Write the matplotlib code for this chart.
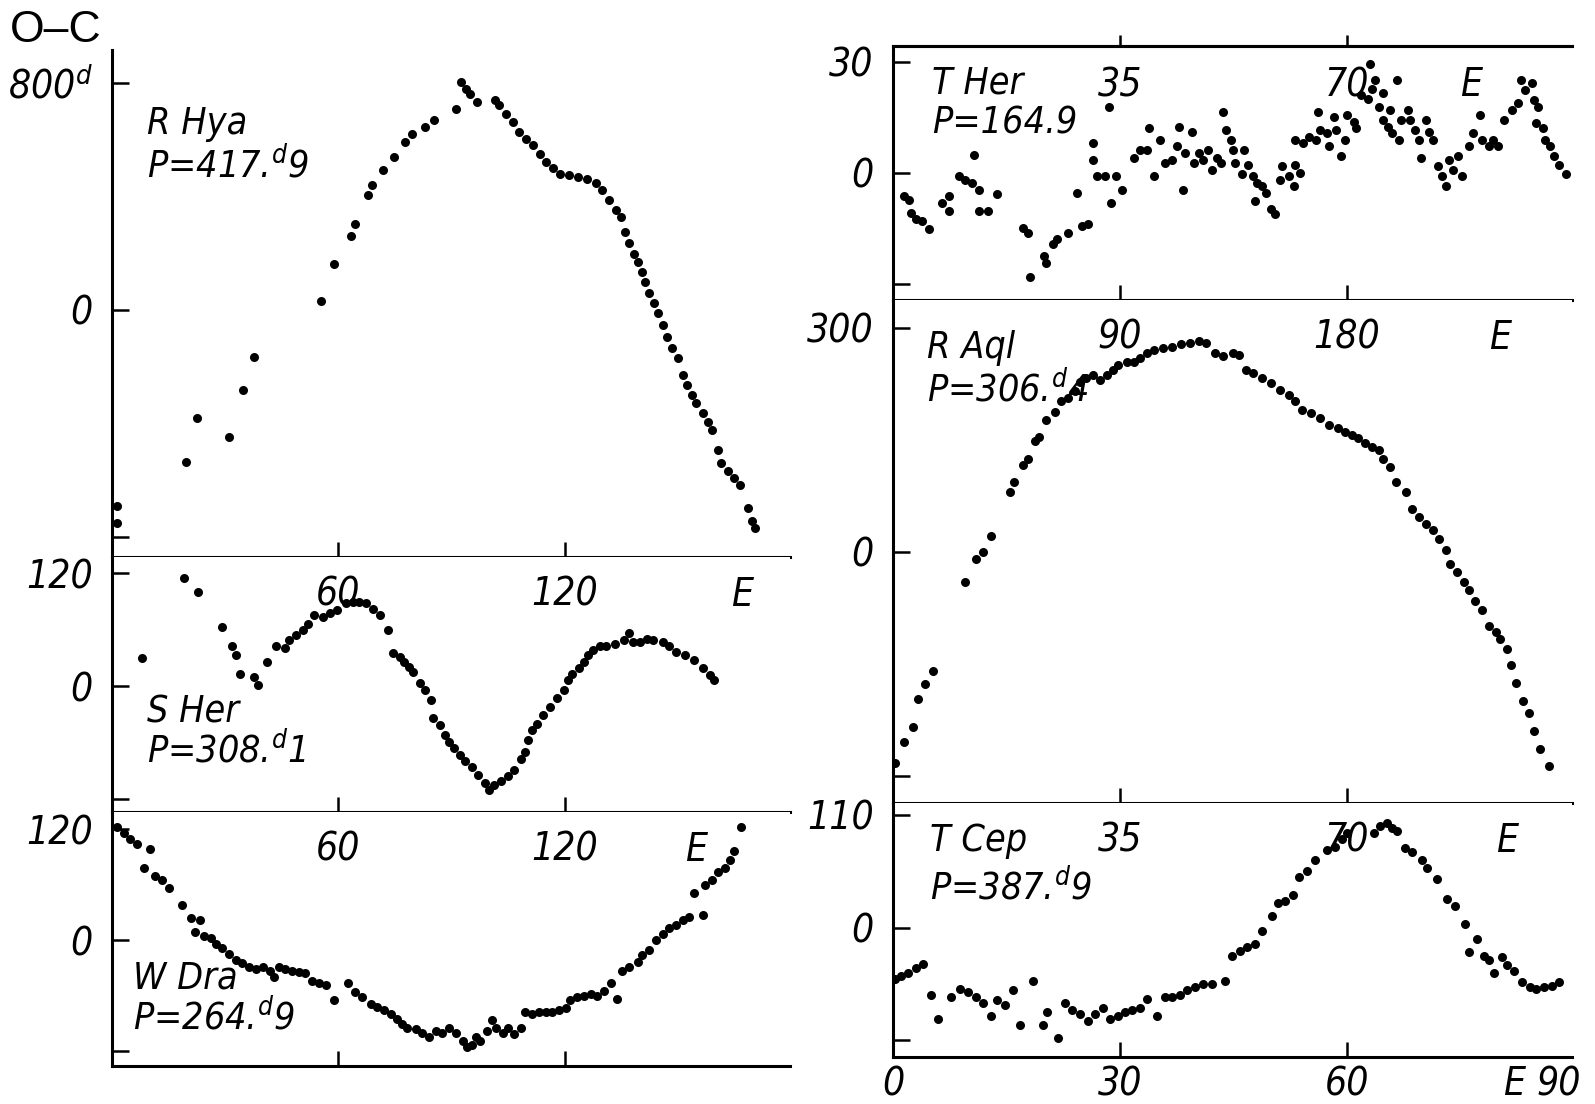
import matplotlib
matplotlib.use("Agg")
import matplotlib.pyplot as plt

# ---------------------------------------------------------------- data
# R Hya
rhya_e = [1.2, 1.2, 19.6, 22.6, 30.9, 34.8, 37.6, 55.5, 59.0, 63.5, 64.5, 68.0, 69.0, 71.9,
          74.8, 77.8, 79.6, 83.1, 85.5, 91.1, 92.6, 93.8, 95.0, 96.8, 101.5, 102.7, 104.5,
          106.3, 108.0, 109.9, 111.6, 113.4, 115.2, 117.0, 118.8, 121.1, 123.5, 125.9, 128.3,
          130.0, 131.8, 133.6, 135.1, 136.0, 137.2, 138.4, 139.5, 140.5, 141.3, 142.5, 143.7,
          144.9, 146.0, 147.3, 148.5, 150.2, 151.4, 152.6, 153.8, 155.0, 156.8, 158.0, 159.1,
          160.6, 161.5, 163.3, 165.0, 166.5, 168.6, 169.8, 170.4]
rhya_oc = [-692, -750, -534, -381, -446, -282, -164, 33, 162, 262, 303, 405, 440, 493,
           540, 592, 622, 645, 669, 710, 804, 780, 762, 733, 739, 721, 692,
           663, 628, 604, 581, 551, 522, 499, 481, 475, 469, 463, 446,
           422, 387, 352, 328, 276, 235, 199, 170, 135, 100, 59, 23,
           -12, -53, -94, -135, -170, -229, -264, -299, -328, -364, -393, -422,
           -493, -540, -569, -592, -616, -698, -745, -768]

# S Her
sher_e = [7.9, 19.2, 22.7, 29.3, 31.7, 32.9, 34.0, 37.6, 38.8, 41.0, 43.6, 46.0, 47.0, 48.9,
          50.7, 52.0, 53.7, 56.0, 57.9, 59.6, 62.0, 63.8, 65.6, 67.4, 69.2, 71.0, 73.3, 74.5,
          76.3, 77.5, 78.7, 79.9, 81.7, 82.9, 84.6, 85.2, 87.0, 88.2, 89.4, 90.6, 92.4, 93.6,
          95.4, 97.1, 98.9, 100.1, 101.3, 103.1, 104.9, 106.7, 108.5, 109.6, 110.2, 111.4,
          112.6, 114.4, 116.2, 118.0, 119.8, 121.0, 122.1, 123.9, 125.1, 126.3, 127.5, 129.3,
          131.0, 133.5, 135.8, 137.0, 138.2, 140.0, 141.8, 143.6, 146.0, 147.7, 149.5, 151.9,
          154.3, 156.7, 158.5, 159.6]
sher_oc = [30, 115, 100, 63, 42, 33, 13, 10, 1, 26, 43, 40, 49, 54,
           59, 66, 75, 73, 77, 81, 88, 89, 89, 88, 82, 75, 59, 35,
           31, 26, 20, 15, 3, -4, -15, -34, -41, -52, -59, -66, -73, -80,
           -86, -94, -103, -110, -105, -101, -96, -89, -78, -70, -57, -47,
           -40, -31, -22, -13, -4, 6, 13, 19, 26, 33, 38, 42,
           43, 45, 49, 56, 47, 47, 50, 49, 47, 43, 36, 33,
           28, 19, 12, 6]

# W Dra
wdra_e = [1.3, 3.1, 4.9, 6.7, 10.2, 8.5, 11.4, 13.2, 15.0, 18.6, 21.0, 23.3, 22.1, 24.5,
          26.3, 27.5, 29.3, 31.0, 32.9, 34.6, 36.4, 38.2, 40.0, 41.9, 43.0, 44.2, 46.0, 47.7,
          49.5, 51.3, 53.0, 54.9, 56.7, 59.0, 62.6, 64.4, 66.2, 68.6, 70.4, 72.1, 73.9, 75.7,
          76.9, 78.1, 80.5, 82.3, 84.0, 85.8, 87.6, 89.4, 91.2, 93.0, 94.2, 95.4, 96.5, 97.7,
          99.5, 100.7, 101.9, 103.7, 104.9, 106.7, 108.5, 109.6, 111.4, 113.2, 115.0, 116.8,
          118.6, 120.4, 121.5, 123.3, 125.1, 126.9, 128.7, 130.5, 132.3, 134.0, 135.2, 137.0,
          139.4, 140.6, 142.4, 144.2, 146.0, 147.7, 149.5, 151.3, 153.1, 156.7, 154.3, 157.3,
          159.0, 160.8, 162.6, 163.8, 165.0, 166.8]
wdra_oc = [122, 116, 109, 104, 98, 78, 69, 65, 56, 38, 24, 22, 9, 4,
           2, -4, -9, -15, -22, -25, -29, -31, -29, -33, -40, -29, -31, -33,
           -35, -36, -44, -47, -49, -65, -47, -56, -62, -69, -72, -76, -80, -85,
           -91, -95, -96, -100, -105, -98, -100, -95, -100, -109, -116, -113, -105, -109,
           -98, -87, -95, -100, -95, -102, -95, -78, -80, -78, -78, -78,
           -76, -73, -65, -62, -60, -58, -60, -55, -47, -64, -33, -29,
           -24, -16, -11, 0, 7, 13, 16, 22, 25, 27, 51, 60,
           65, 73, 78, 87, 96, 122]

# T Her
ther_e = [1.7, 2.4, 2.8, 3.5, 4.5, 5.5, 7.6, 8.7, 8.7, 10.1, 11.1, 12.1, 12.5, 13.2, 13.2,
          14.6, 16.0, 20.1, 20.8, 21.1, 23.2, 23.6, 24.6, 25.3, 27.0, 28.4, 29.1, 30.1, 30.8,
          30.8, 31.5, 32.6, 33.3, 33.6, 34.3, 35.3, 37.1, 38.1, 39.1, 39.5, 40.2, 41.2, 41.9,
          43.0, 43.7, 44.0, 44.7, 45.0, 46.1, 46.4, 47.1, 47.8, 48.5, 49.2, 49.9, 50.6, 50.9,
          51.3, 52.0, 52.3, 52.7, 53.7, 54.1, 54.7, 55.4, 55.8, 56.1, 56.8, 57.5, 58.2, 58.9,
          59.6, 59.9, 61.0, 61.7, 62.0, 62.7, 62.0, 63.1, 64.1, 65.1, 65.5, 65.8, 66.8, 67.2,
          67.9, 68.3, 69.0, 69.6, 70.0, 71.0, 71.4, 72.1, 73.2, 73.5, 73.8, 74.2, 74.8, 75.5,
          75.5, 76.2, 76.6, 76.9, 77.6, 77.9, 78.3, 79.4, 79.7, 80.4, 81.1, 81.4, 82.1, 82.5,
          83.2, 83.9, 84.5, 85.2, 85.6, 86.3, 87.0, 87.6, 88.7, 89.4, 90.4, 90.8, 91.8, 92.5,
          93.2, 94.2, 95.3, 96.3, 96.7, 97.4, 98.4, 98.8, 99.4, 99.1, 100.1, 100.5, 101.2,
          101.9, 102.6, 103.6]
ther_oc = [-6.3, -7.2, -10.7, -12.5, -13.0, -15.2, -8.1, -6.3, -10.3, -0.9, -1.8, -2.7, 4.9, -4.5, -10.3,
           -10.3, -5.8, -14.8, -16.1, -28.2, -22.4, -24.2, -19.2, -17.9, -16.1, -5.4, -14.3, -13.9, 8.1,
           3.6, -0.9, -0.9, 17.9, -8.1, -0.9, -4.5, 4.0, 6.3, 6.3, 12.1, -0.9, 9.0, 2.7,
           3.6, 7.2, 12.5, -4.5, 5.4, 11.2, 2.7, 5.4, 3.6, 6.3, 0.9, 4.0, 2.7, 16.6,
           11.6, 9.0, 6.3, 2.7, -0.4, 6.3, 2.2, -0.9, -7.6, -2.7, -3.6, -5.4, -9.8, -11.2,
           -1.8, 1.8, -0.9, -3.6, 2.2, 0.0, 9.0, 8.1, 9.8, 9.0, 16.6, 11.6, 10.7, 7.2,
           15.2, 11.6, 4.5, 9.0, 15.7, 13.9, 12.1, 21.0, 20.1, 29.5, 22.8, 25.1, 17.9, 21.5,
           14.3, 12.5, 17.0, 10.7, 25.1, 9.0, 14.3, 17.0, 14.3, 11.6, 9.0, 4.0, 14.3, 11.2,
           9.0, 1.8, -0.9, -3.6, 3.6, 0.9, 4.5, -0.9, 7.2, 10.7, 15.7, 9.0, 7.2, 9.0,
           7.2, 14.3, 17.0, 18.8, 25.1, 22.4, 24.2, 19.7, 17.9, 13.4, 12.1, 9.0, 7.2,
           4.5, 2.2, -0.4]

# R Aql
raql_e = [0.9, 4.5, 8.0, 9.8, 12.5, 16.0, 28.5, 33.0, 35.7, 38.9, 46.3, 48.1, 51.7, 53.5,
          56.1, 57.9, 60.6, 64.2, 66.8, 69.5, 72.2, 74.0, 76.6, 79.3, 82.0, 84.7, 87.3, 89.1,
          92.7, 95.4, 98.0, 100.7, 103.4, 107.0, 110.5, 114.1, 117.6, 121.2, 123.9, 127.5,
          131.0, 134.6, 137.3, 139.9, 142.6, 146.2, 149.7, 153.3, 156.9, 159.5, 162.2, 165.8,
          169.3, 172.9, 176.5, 179.1, 181.8, 184.5, 187.1, 189.8, 192.5, 194.3, 196.9, 199.6,
          203.2, 205.9, 208.6, 211.2, 213.9, 216.6, 219.3, 221.0, 223.7, 226.4, 228.2, 230.8,
          233.5, 236.2, 238.9, 240.6, 243.3, 245.1, 246.9, 249.6, 252.2, 254.0, 256.7, 260.2]
raql_oc = [-282, -255, -235, -197, -177, -159, -40, -9, 0, 22, 81, 94, 116, 125,
           148, 154, 177, 188, 202, 206, 215, 228, 233, 237, 231, 237, 244, 251,
           255, 255, 260, 266, 271, 273, 275, 278, 280, 282, 280, 266,
           262, 266, 264, 244, 240, 233, 226, 217, 210, 202, 190, 186,
           179, 170, 166, 161, 157, 152, 146, 141, 137, 125, 114, 94,
           81, 58, 47, 38, 29, 18, 2, -16, -27, -40, -51, -65,
           -78, -99, -107, -116, -130, -152, -175, -199, -215, -240, -264, -287]

# T Cep
tcep_e = [0.3, 1.0, 2.0, 3.0, 4.0, 5.0, 5.9, 7.6, 8.9, 9.9, 10.9, 11.9, 12.9, 13.8, 14.8,
          15.8, 16.8, 18.5, 19.8, 20.4, 21.8, 22.7, 23.7, 24.7, 25.7, 26.7, 27.7, 28.7, 29.7,
          30.7, 31.6, 32.6, 33.6, 34.9, 35.9, 36.9, 37.9, 38.9, 39.9, 40.9, 42.2, 43.8, 44.8,
          45.8, 46.8, 47.8, 48.8, 50.1, 50.8, 51.8, 52.8, 53.7, 54.7, 55.7, 57.4, 58.4, 59.3,
          60.0, 63.6, 64.3, 65.3, 65.9, 66.6, 67.6, 68.6, 69.9, 70.5, 71.8, 73.2, 74.2, 75.5,
          77.1, 76.1, 78.1, 78.8, 79.4, 80.4, 81.1, 82.1, 83.1, 84.1, 85.0, 86.0, 87.0, 88.0]
tcep_oc = [-50, -47, -44, -40, -36, -66, -89, -68, -60, -63, -68, -74, -86, -71, -76,
           -61, -95, -52, -95, -83, -108, -74, -81, -84, -91, -84, -79, -89, -86,
           -83, -81, -79, -70, -86, -68, -68, -66, -61, -58, -55, -55, -52, -28,
           -23, -19, -16, -3, 11, 24, 26, 32, 49, 55, 66, 76, 79, 87,
           92, 92, 99, 102, 97, 94, 78, 74, 66, 58, 47, 28, 21, 3,
           -11, -24, -28, -32, -44, -29, -37, -42, -53, -58, -60, -58, -57, -53]

# ---------------------------------------------------------------- style
W, H = 1595, 1104
plt.rcParams['font.family'] = ['DejaVu Sans']
plt.rcParams['font.stretch'] = 'condensed'
plt.rcParams['font.style'] = 'italic'
plt.rcParams['mathtext.fontset'] = 'custom'
plt.rcParams['mathtext.rm'] = 'DejaVu Sans:style=italic:stretch=condensed'
plt.rcParams['mathtext.it'] = 'DejaVu Sans:style=italic:stretch=condensed'
plt.rcParams['axes.linewidth'] = 2.2

LAB = 28      # tick label size
TXT = 27      # star name size


def rect(x0, x1, ytop, ybot):
    return [x0 / W, 1 - ybot / H, (x1 - x0) / W, (ybot - ytop) / H]


def panel(r, xlim, ylim, yt, ylab, xt, e, oc, name, per, npos, top_labels=None):
    ax = fig.add_axes(r)
    ax.plot(e, oc, 'o', color='black', ms=6.5, mec='none')
    ax.set_xlim(*xlim)
    ax.set_ylim(*ylim)
    for s in ('right', 'top'):
        ax.spines[s].set_visible(False)
    ax.set_yticks(yt, ylab)
    ax.tick_params(axis='y', direction='in', length=12, width=1.8,
                   pad=14, labelsize=LAB)
    ax.set_xticks(xt)
    ax.tick_params(axis='x', direction='in', length=11, width=1.8,
                   labelbottom=False)
    if top_labels is not None:
        pos, labs = top_labels
        sec = ax.secondary_xaxis('top')
        sec.spines['top'].set_visible(False)
        sec.set_xticks(pos, labs)
        sec.tick_params(length=0, pad=-41, labelsize=LAB)
    x, y, dy = npos
    ax.text(x, y, name, transform=ax.transAxes, fontsize=TXT, va='top', ha='left')
    ax.text(x, y - dy, per, transform=ax.transAxes, fontsize=TXT, va='top', ha='left')
    return ax


fig = plt.figure(figsize=(W / 100, H / 100), dpi=100)

# left column
xl = (0, 179.8)
panel(rect(112, 790, 50, 557), xl, (-870.5, 916.3), [800, 0, -800],
      [r'800$^d$', '0', ''], [60, 120], rhya_e, rhya_oc,
      'R Hya', r'P=417.$^d$9', (0.052, 0.89, 0.082))
panel(rect(112, 790, 557, 812), xl, (-133.8, 137.0), [120, 0, -120],
      ['120', '0', ''], [60, 120], sher_e, sher_oc,
      'S Her', r'P=308.$^d$1', (0.052, 0.46, 0.145),
      top_labels=([60, 120, 167], ['60', '120', 'E']))
panel(rect(112, 790, 812, 1066), xl, (-136.2, 138.4), [120, 0, -120],
      ['120', '0', ''], [60, 120], wdra_e, wdra_oc,
      'W Dra', r'P=264.$^d$9', (0.031, 0.415, 0.15),
      top_labels=([60, 120, 155], ['60', '120', 'E']))

# right column
ax = panel(rect(893, 1572, 46, 300), (0, 104.6), (-34.3, 34.3), [30, 0, -30],
           ['30', '0', ''], [35, 70], ther_e, ther_oc,
           'T Her', 'P=164.9', (0.058, 0.925, 0.16))
ax.spines['top'].set_visible(True)
sec = ax.secondary_xaxis('top')
sec.set_xticks([35, 70, 89], ['35', '70', 'E'])
sec.tick_params(direction='out', length=8, width=1.8, pad=-50, labelsize=LAB)
sec.xaxis.get_major_ticks()[2].tick2line.set_visible(False)
sec.xaxis.get_major_ticks()[2].tick1line.set_visible(False)

panel(rect(893, 1572, 300, 803), (0, 269.2), (-336.2, 337.5), [300, 0, -300],
      ['300', '0', ''], [90, 180], raql_e, raql_oc,
      'R Aql', r'P=306.$^d$4', (0.05, 0.94, 0.082),
      top_labels=([90, 180, 240.7], ['90', '180', 'E']))
ax = panel(rect(893, 1572, 803, 1057), (0, 89.7), (-126.5, 121.7), [110, 0, -110],
           ['110', '0', ''], [30, 60], tcep_e, tcep_oc,
           'T Cep', r'P=387.$^d$9', (0.055, 0.92, 0.18),
           top_labels=([30, 60, 81.1], ['35', '70', 'E']))
ax.set_xticks([0, 30, 60, 82.0, 88.0], ['0', '30', '60', 'E', '90'])
ax.tick_params(axis='x', labelbottom=True, labelsize=LAB, pad=6)
for i in (0, 3, 4):
    ax.xaxis.get_major_ticks()[i].tick1line.set_visible(False)

fig.text(10 / W, 1 - 42 / H, 'O\u2013C', fontsize=32, style='normal',
         stretch='normal', family='Liberation Sans', va='baseline', ha='left')

fig.savefig('out.png', dpi=100)
